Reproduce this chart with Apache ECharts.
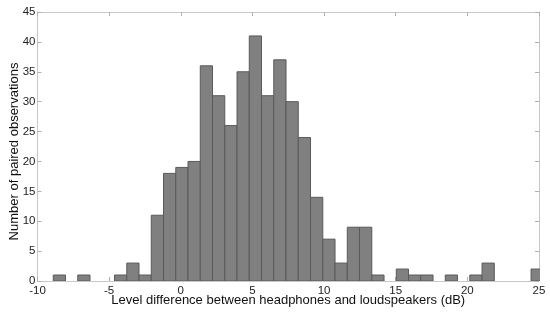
<!DOCTYPE html>
<html>
<head>
<meta charset="utf-8">
<script src="https://cdn.jsdelivr.net/npm/echarts@6/dist/echarts.min.js"></script>
<style>
  html, body { margin: 0; padding: 0; background: #fff; }
  #chart { width: 550px; height: 312px; }
</style>
</head>
<body>
<div id="chart"></div>
<script>
// histogram: 40 bins of equal width starting at binStart
const binStart = -8.9;
const binWidth = 0.855;
const counts = [
  1, 0, 1, 0, 0, 1, 3, 1, 11, 18,
  19, 20, 36, 31, 26, 35, 41, 31, 37, 30,
  24, 14, 7, 3, 9, 9, 1, 0, 2, 1,
  1, 0, 1, 0, 1, 3, 0, 0, 0, 2
];
const xTicks = [-10, -5, 0, 5, 10, 15, 20, 25];
const yTicks = [0, 5, 10, 15, 20, 25, 30, 35, 40, 45];

const bins = counts.map((c, i) => [binStart + i * binWidth, binStart + (i + 1) * binWidth, c]);

const chart = echarts.init(document.getElementById('chart'));

const axisCommon = {
  axisLine: { show: true, onZero: false, lineStyle: { color: '#c8c8c8', width: 1 } },
  axisTick: { show: true, inside: true, length: 4, lineStyle: { color: '#b0b0b0' } },
  splitLine: { show: false },
  axisLabel: { color: '#222', fontFamily: 'Liberation Sans', fontSize: 11.5 }
};

chart.setOption({
  animation: false,
  grid: { left: 37.5, right: 11, top: 12, bottom: 31, outerBoundsMode: 'none', containLabel: false },
  xAxis: [{
    type: 'value',
    min: -10, max: 25, interval: 5,
    ...axisCommon,
    axisLabel: { ...axisCommon.axisLabel, margin: 4 },
    name: 'Level difference between headphones and loudspeakers (dB)',
    nameLocation: 'middle',
    nameMoveOverlap: false,
    nameGap: 13,
    nameTextStyle: { color: '#111', fontFamily: 'Liberation Sans', fontSize: 13 }
  }, {
    type: 'value', position: 'top',
    min: -10, max: 25, interval: 5,
    ...axisCommon,
    axisLabel: { show: false }
  }],
  yAxis: [{
    type: 'value',
    min: 0, max: 45, interval: 5,
    ...axisCommon,
    axisLabel: { ...axisCommon.axisLabel, margin: 2 },
    name: 'Number of paired observations',
    nameLocation: 'middle',
    nameMoveOverlap: false,
    nameGap: 17,
    nameTextStyle: { color: '#111', fontFamily: 'Liberation Sans', fontSize: 13, padding: [0, 10, 0, 0] }
  }, {
    type: 'value', position: 'right',
    min: 0, max: 45, interval: 5,
    ...axisCommon,
    axisLabel: { show: false }
  }],
  series: [{
    type: 'custom',
    clip: true,
    data: bins.filter(b => b[2] > 0),
    renderItem: function (params, api) {
      const p0 = api.coord([api.value(0), api.value(2)]);
      const p1 = api.coord([api.value(1), 0]);
      return {
        type: 'rect',
        shape: { x: p0[0], y: p0[1], width: p1[0] - p0[0], height: p1[1] - p0[1] },
        style: { fill: '#808080', stroke: '#5a5a5a', lineWidth: 1 }
      };
    }
  }]
});
</script>
</body>
</html>
